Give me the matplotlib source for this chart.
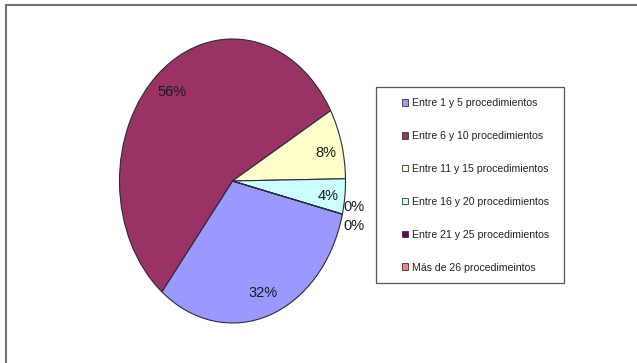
import numpy as np
import matplotlib
matplotlib.use('Agg')
import matplotlib.pyplot as plt
import matplotlib.patches as patches

plt.rcParams['font.family'] = ['Liberation Sans', 'DejaVu Sans']

# Datos del grafico
categorias = ['Entre 1 y 5 procedimientos', 'Entre 6 y 10 procedimientos',
              'Entre 11 y 15 procedimientos', 'Entre 16 y 20 procedimientos',
              'Entre 21 y 25 procedimientos', 'Más de 26 procedimeintos']
porcentajes = [32, 56, 8, 4, 0, 0]
etiquetas = ['32%', '56%', '8%', '4%', '0%', '0%']
colores = ['#9999FF', '#993366', '#FFFFCC', '#CCFFFF', '#660066', '#FF8080']

# Posicion de las etiquetas (distancia radial y desplazamiento angular)
dist_etiqueta = [0.83, 0.82, 0.85, 0.85, 1.09, 1.12]
giro_etiqueta = [0, 0, -2, -1, 4, -3]

W, H = 637, 363
fig = plt.figure(figsize=(W / 100, H / 100), dpi=100)

# Marco exterior
fig.patches.append(patches.Rectangle((6 / W, -0.01), 1.0, (H - 5) / H + 0.01,
                                     transform=fig.transFigure, fill=False,
                                     edgecolor='#707070', lw=1.5))

# Ejes del pastel (eliptico)
cx, cy, rx, ry = 232.5, 181, 113, 142
ax = fig.add_axes([(cx - rx) / W, (H - cy - ry) / H, 2 * rx / W, 2 * ry / H])
wedges, _ = ax.pie(porcentajes, colors=colores, startangle=-13.5, counterclock=False,
                   wedgeprops=dict(edgecolor='#2a2a3a', linewidth=0.8))
ax.set_aspect('auto')
ax.set_xlim(-1, 1)
ax.set_ylim(-1, 1)

for w, txt, r, dt in zip(wedges, etiquetas, dist_etiqueta, giro_etiqueta):
    ang = np.deg2rad((w.theta1 + w.theta2) / 2 + dt)
    ax.text(r * np.cos(ang), r * np.sin(ang), txt, ha='center', va='center',
            fontsize=10.5, color='#1a1a1a')

# Leyenda
lx0, ly0, lx1, ly1 = 376, 87, 564, 283
fig.patches.append(patches.Rectangle((lx0 / W, 1 - ly1 / H), (lx1 - lx0) / W, (ly1 - ly0) / H,
                                     transform=fig.transFigure, fill=False,
                                     edgecolor='#555555', lw=0.9))
handles = [patches.Patch(facecolor=c, edgecolor='#333333', lw=0.6) for c in colores]
leg = fig.legend(handles, categorias, loc='upper left',
                 bbox_to_anchor=(402 / W, 1 - 98 / H), frameon=False,
                 fontsize=7.6, handlelength=0.6, handleheight=0.6,
                 handletextpad=0.35, labelspacing=2.17, borderpad=0, borderaxespad=0)
for t in leg.get_texts():
    t.set_color('#222222')

fig.savefig('out.png', dpi=100, facecolor='white')
